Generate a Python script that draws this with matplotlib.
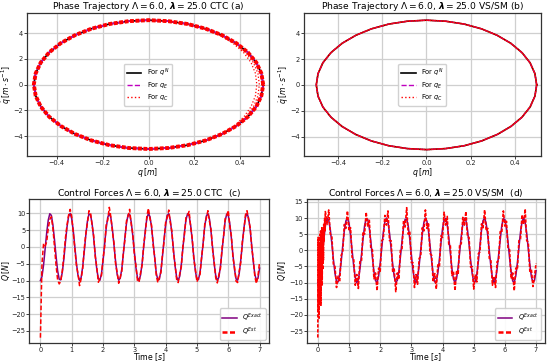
import numpy as np
import matplotlib
matplotlib.use("Agg")
import matplotlib.pyplot as plt
from matplotlib.lines import Line2D

# ------------------------------------------------------------
# data
# ------------------------------------------------------------

# phase trajectory, one loop of the nominal path (q [m], qdot [m/s])
q_nom = [0.500, 0.492, 0.470, 0.433, 0.383, 0.321, 0.250, 0.171, 0.087, 0.000,
         -0.087, -0.171, -0.250, -0.321, -0.383, -0.433, -0.470, -0.492, -0.500,
         -0.492, -0.470, -0.433, -0.383, -0.321, -0.250, -0.171, -0.087, 0.000,
         0.087, 0.171, 0.250, 0.321, 0.383, 0.433, 0.470, 0.492, 0.500]
qd_nom = [0.00, 0.87, 1.71, 2.50, 3.21, 3.83, 4.33, 4.70, 4.92, 5.00,
          4.92, 4.70, 4.33, 3.83, 3.21, 2.50, 1.71, 0.87, 0.00,
          -0.87, -1.71, -2.50, -3.21, -3.83, -4.33, -4.70, -4.92, -5.00,
          -4.92, -4.70, -4.33, -3.83, -3.21, -2.50, -1.71, -0.87, 0.00]

# CTC: early loops of q_C that stay inside on the right side
qc_in1_q = [0.000, 0.085, 0.166, 0.242, 0.310, 0.368, 0.414, 0.447, 0.466, 0.472,
            0.466, 0.447, 0.416, 0.374, 0.322, 0.250]
qc_in2_q = [0.000, 0.086, 0.168, 0.246, 0.315, 0.375, 0.423, 0.457, 0.477, 0.483,
            0.477, 0.458, 0.425, 0.380, 0.322, 0.250]
qc_in_qd = [5.00, 4.92, 4.70, 4.33, 3.83, 3.21, 2.50, 1.71, 0.87, 0.00,
            -0.87, -1.71, -2.50, -3.21, -3.83, -4.33]

# control forces, sampled every 0.05 s from 0 to 7 s
time_s = np.linspace(0, 7, 141)

Q_exact = [-10.0, -8.8, -5.4, -0.7, 4.2, 8.0, 9.9, 9.4, 6.5, 2.1,
           -2.8, -7.1, -9.6, -9.8, -7.5, -3.5, 1.5, 6.0, 9.1, 10.0,
           8.4, 4.8, 0.0, -4.8, -8.4, -10.0, -9.1, -5.9, -1.4, 3.5,
           7.6, 9.8, 9.6, 7.0, 2.8, -2.2, -6.6, -9.4, -9.9, -8.0,
           -4.1, 0.8, 5.5, 8.8, 10.0, 8.7, 5.3, 0.6, -4.2, -8.1,
           -9.9, -9.3, -6.5, -2.0, 2.9, 7.1, 9.6, 9.7, 7.5, 3.4,
           -1.5, -6.1, -9.1, -10.0, -8.3, -4.7, 0.1, 4.9, 8.5, 10.0,
           9.0, 5.9, 1.3, -3.6, -7.7, -9.8, -9.6, -7.0, -2.7, 2.3,
           6.7, 9.4, 9.9, 7.9, 4.0, -0.9, -5.6, -8.9, -10.0, -8.7,
           -5.3, -0.5, 4.3, 8.1, 9.9, 9.3, 6.4, 1.9, -3.0, -7.2,
           -9.7, -9.7, -7.4, -3.3, 1.6, 6.2, 9.2, 10.0, 8.3, 4.6,
           -0.2, -5.0, -8.5, -10.0, -9.0, -5.8, -1.2, 3.7, 7.7, 9.8,
           9.5, 6.9, 2.6, -2.4, -6.7, -9.5, -9.9, -7.9, -3.9, 1.0,
           5.6, 8.9, 10.0, 8.6, 5.2, 0.4, -4.4, -8.2, -9.9, -9.3,
           -6.3]

Q_est_ctc = [-27.0, -5.0, 1.0, 0.3, 1.5, 5.5, 8.2, 9.0, 5.5, 0.0,
             -5.5, -9.8, -11.0, -10.2, -7.0, -2.5, 2.8, 6.5, 9.5, 11.2,
             9.0, 4.2, -0.8, -5.5, -8.0, -11.5, -9.5, -6.5, -0.5, 4.0,
             7.0, 10.8, 10.2, 6.5, 3.5, -2.8, -6.0, -10.5, -9.5, -8.5,
             -3.5, 0.0, 6.5, 8.0, 11.8, 9.0, 4.5, 1.2, -5.0, -7.5,
             -10.8, -9.0, -7.2, -1.5, 2.2, 7.8, 9.2, 11.2, 6.8, 4.0,
             -2.2, -5.5, -10.0, -10.5, -7.6, -5.4, 0.8, 4.2, 9.2, 11.5,
             8.4, 6.5, 0.6, -3.0, -8.4, -10.6, -9.0, -7.6, -2.0, 1.6,
             7.4, 8.8, 11.0, 7.2, 4.7, -1.6, -5.0, -9.6, -10.6, -8.0,
             -6.0, 0.2, 3.6, 8.8, 9.4, 10.6, 5.8, 2.6, -3.7, -6.6,
             -10.4, -9.0, -8.1, -2.7, 0.9, 6.9, 8.6, 10.8, 7.6, 5.3,
             -0.9, -4.4, -9.2, -10.7, -8.3, -6.5, -0.5, 3.0, 8.4, 9.2,
             10.9, 6.2, 3.3, -3.1, -6.0, -10.2, -10.6, -7.2, -4.6, 1.7,
             4.9, 9.6, 10.8, 8.0, 5.9, -0.3, -3.7, -8.9, -10.9, -8.6,
             -4.5]

# VS/SM estimate: dense start-up transient, then every 0.05 s from 0.25 s
t_smc_start = [0.000, 0.010, 0.020, 0.030, 0.040, 0.050, 0.060, 0.070, 0.080,
               0.090, 0.100, 0.110, 0.120, 0.130, 0.140, 0.150, 0.160, 0.170,
               0.180, 0.190, 0.200, 0.210, 0.220, 0.230, 0.240]
Q_smc_start = [-27.0, 4.0, -19.0, 3.5, -21.0, 2.0, -16.0, 5.0, -13.0,
               6.0, -17.0, 3.0, -9.0, 7.0, -11.0, 4.0, -6.0, 6.5,
               -3.0, 8.0, 2.5, 7.0, 10.0, 6.0, 12.0]
Q_smc_rest = [11.5, 8.0, 12.5, 5.0, 4.5,
              -4.5, -5.0, -11.5, -8.0, -9.8, -1.5, -0.5, 8.0, 6.8, 12.2,
              6.0, 7.0, -2.2, -2.5, -10.8, -7.5, -11.8, -3.5, -3.5, 5.8,
              5.0, 11.8, 7.5, 9.5, 0.5, 0.2, -8.8, -7.0, -12.5, -5.5,
              -6.5, 3.0, 3.5, 10.8, 7.8, 12.2, 3.0, 3.0, -6.5, -5.8,
              -12.8, -7.0, -9.0, 0.3, 0.5, 9.3, 7.2, 13.2, 5.0, 5.8,
              -3.8, -3.8, -11.5, -7.5, -10.5, -2.5, -2.0, 7.0, 6.0, 12.5,
              6.8, 8.2, -1.0, -1.5, -9.8, -7.2, -12.0, -4.5, -5.0, 4.5,
              4.0, 11.8, 7.8, 10.5, 1.8, 1.5, -7.8, -6.5, -12.5, -6.2,
              -7.5, 2.0, 2.0, 10.2, 7.8, 12.0, 4.2, 4.0, -5.2, -5.0,
              -12.0, -7.5, -9.8, -1.0, -0.5, 8.2, 7.0, 12.5, 6.0, 6.8,
              -2.5, -3.0, -10.8, -8.0, -11.5, -3.5, -3.2, 5.8, 5.5, 12.2,
              7.5, 9.0, 0.5, 0.2, -8.8, -7.0, -12.5, -5.5, -6.0, 3.0,
              3.5, 11.0, 8.0, 12.8, 3.0, 2.5, -6.5, -6.0, -11.2, -8.0,
              -4.0]

t_smc = np.concatenate([t_smc_start, time_s[5:]])
Q_est_smc = np.concatenate([Q_smc_start, Q_smc_rest])

# ------------------------------------------------------------
# figure
# ------------------------------------------------------------
FS_TITLE = 6.6
FS_LABEL = 5.6
FS_TICK = 4.8
FS_LEG = 4.8

C_EXACT = "purple"
C_EST = "red"
C_GRID = "#cfcfcf"

fig = plt.figure(figsize=(5.5, 3.63), dpi=100)

ax_a = fig.add_axes([0.049, 0.570, 0.440, 0.394])
ax_b = fig.add_axes([0.553, 0.570, 0.430, 0.394])
ax_c = fig.add_axes([0.053, 0.055, 0.436, 0.396])
ax_d = fig.add_axes([0.558, 0.055, 0.432, 0.396])

LAM = r"$\Lambda = 6.0$, $\mathbfit{\lambda} = 25.0$"


def style_axis(ax):
    ax.grid(True, color=C_GRID, lw=0.9)
    ax.set_axisbelow(True)
    for sp in ax.spines.values():
        sp.set_color("#333333")
        sp.set_linewidth(0.9)
    ax.tick_params(labelsize=FS_TICK, length=2.0, width=0.6, pad=0.8,
                   colors="#222222")


# --- (a) phase trajectory, CTC
ax_a.plot(q_nom, qd_nom, color="black", lw=1.2)
ax_a.plot(q_nom, qd_nom, color="m", lw=1.2, ls="--")
ax_a.plot(q_nom, qd_nom, color=C_EST, lw=2.8, ls=(0, (1, 0.4)))
ax_a.plot(qc_in1_q, qc_in_qd, color=C_EST, lw=0.9, ls=":")
ax_a.plot(qc_in2_q, qc_in_qd, color=C_EST, lw=0.9, ls=":")
ax_a.set_xlim(-0.53, 0.525)
ax_a.set_ylim(-5.55, 5.55)
ax_a.set_title("Phase Trajectory " + LAM + " CTC (a)", fontsize=FS_TITLE, pad=2)

# --- (b) phase trajectory, VS/SM
ax_b.plot(q_nom, qd_nom, color="black", lw=1.1)
ax_b.plot(q_nom, qd_nom, color="m", lw=0.8, ls="--")
ax_b.plot(q_nom, qd_nom, color=C_EST, lw=1.2, ls=(0, (1, 0.3)))
ax_b.set_xlim(-0.555, 0.518)
ax_b.set_ylim(-5.5, 5.55)
ax_b.set_title("Phase Trajectory " + LAM + " VS/SM (b)", fontsize=FS_TITLE, pad=2)

phase_handles = [
    Line2D([], [], color="black", lw=1.2),
    Line2D([], [], color="m", lw=1.0, ls="--"),
    Line2D([], [], color=C_EST, lw=1.0, ls=":"),
]
for ax, xlab in ((ax_a, -0.052), (ax_b, -0.055)):
    ax.set_xticks([-0.4, -0.2, 0.0, 0.2, 0.4])
    ax.set_yticks([-4, -2, 0, 2, 4])
    ax.set_xlabel(r"$q\,[m]$", fontsize=FS_LABEL, labelpad=0)
    ax.set_ylabel(r"$\dot{q}\,[m \cdot s^{-1}]$", fontsize=FS_LABEL)
    ax.yaxis.set_label_coords(xlab, 0.5)
    ax.legend(phase_handles, [r"For $q^N$", r"For $q_E$", r"For $q_C$"],
              loc="center", fontsize=FS_LEG, handlelength=2.2,
              borderpad=0.4, labelspacing=0.3, framealpha=0.9)
    style_axis(ax)

# --- (c) control forces, CTC
ax_c.plot(time_s, Q_exact, color=C_EXACT, lw=1.1)
ax_c.plot(time_s, Q_est_ctc, color=C_EST, lw=1.1, ls="--", dashes=(3, 1.5))
ax_c.set_xlim(-0.36, 7.3)
ax_c.set_ylim(-28.6, 14.2)
ax_c.set_yticks([-25, -20, -15, -10, -5, 0, 5, 10])
ax_c.set_title("Control Forces " + LAM + " CTC  (c)", fontsize=FS_TITLE, pad=2)

# --- (d) control forces, VS/SM
ax_d.plot(time_s, Q_exact, color=C_EXACT, lw=1.1)
ax_d.plot(t_smc, Q_est_smc, color=C_EST, lw=1.2, ls="--", dashes=(2, 1))
ax_d.set_xlim(-0.35, 7.27)
ax_d.set_ylim(-28.7, 15.8)
ax_d.set_yticks([-25, -20, -15, -10, -5, 0, 5, 10, 15])
ax_d.set_title("Control Forces " + LAM + " VS/SM  (d)", fontsize=FS_TITLE, pad=2)

force_handles = [
    Line2D([], [], color=C_EXACT, lw=1.1),
    Line2D([], [], color=C_EST, lw=1.8, ls="--", dashes=(2, 1)),
]
for ax, xlab in ((ax_c, -0.072), (ax_d, -0.078)):
    ax.set_xticks(range(0, 8))
    ax.set_xlabel(r"Time $[s]$", fontsize=FS_LABEL)
    ax.xaxis.set_label_coords(0.5, -0.058)
    ax.set_ylabel(r"$Q\,[N]$", fontsize=FS_LABEL)
    ax.yaxis.set_label_coords(xlab, 0.5)
    ax.legend(force_handles, [r"$Q^{Exact}$", r"$Q^{Est}$"], loc="lower right",
              fontsize=FS_LEG, handlelength=2.2, borderpad=0.4,
              labelspacing=0.3, framealpha=0.9)
    style_axis(ax)

fig.savefig("out.png", dpi=100)
plt.close(fig)
